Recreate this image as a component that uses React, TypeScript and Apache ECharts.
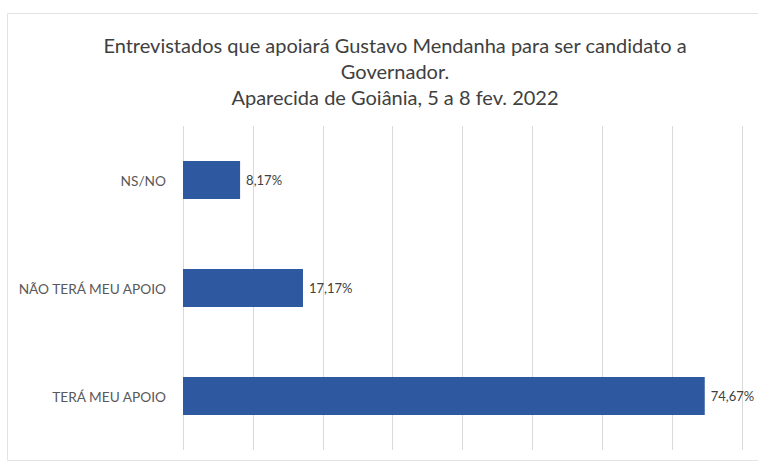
import React, { useEffect, useRef } from "react";
import * as echarts from "echarts";

const titleLines = [
  "Entrevistados que apoiará Gustavo Mendanha para ser candidato a",
  "Governador.",
  "Aparecida de Goiânia, 5 a 8 fev. 2022",
];
const categories = ["NS/NO", "NÃO TERÁ MEU APOIO", "TERÁ MEU APOIO"];
const values = [8.17, 17.17, 74.67];
const valueLabels = ["8,17%", "17,17%", "74,67%"];

export default function App() {
  const ref = useRef<HTMLDivElement>(null);
  useEffect(() => {
    const chart = echarts.init(ref.current!, null, { renderer: "svg" });
    chart.setOption({
      animation: false,
      backgroundColor: "#ffffff",
      title: {
        text: titleLines.join("\n"),
        left: 390,
        top: 27,
        textAlign: "center",
        textStyle: {
          fontFamily: "Lato",
          fontSize: 20,
          fontWeight: "normal",
          color: "#404040",
          lineHeight: 26,
        },
      },
      graphic: [
        {
          type: "rect",
          shape: { x: 7.5, y: 13.5, width: 800, height: 447 },
          style: { fill: "none", stroke: "#e3e3e3", lineWidth: 1 },
          silent: true,
        },
      ],
      grid: { left: 183, right: 16, top: 126, bottom: 12, containLabel: false },
      xAxis: {
        type: "value",
        min: 0,
        max: 80,
        interval: 10,
        axisLabel: { show: false },
        axisLine: { show: false },
        axisTick: { show: false },
        splitLine: { show: true, lineStyle: { color: "#d9d9d9", width: 1 } },
      },
      yAxis: {
        type: "category",
        inverse: true,
        data: categories,
        axisLine: { show: false },
        axisTick: { show: false },
        axisLabel: {
          margin: 17,
          fontFamily: "Lato",
          fontSize: 13.7,
          color: "#595959",
        },
      },
      series: [
        {
          type: "bar",
          data: values,
          barWidth: 38,
          itemStyle: { color: "#2E59A0" },
          label: {
            show: true,
            position: "right",
            distance: 6,
            fontFamily: "Lato",
            fontSize: 13,
            color: "#404040",
            formatter: (p: any) => valueLabels[p.dataIndex],
          },
        },
      ],
    });
    return () => chart.dispose();
  }, []);
  return (
    <div
      ref={ref}
      style={{ position: "fixed", left: 0, top: 0, width: 758, height: 462 }}
    />
  );
}
